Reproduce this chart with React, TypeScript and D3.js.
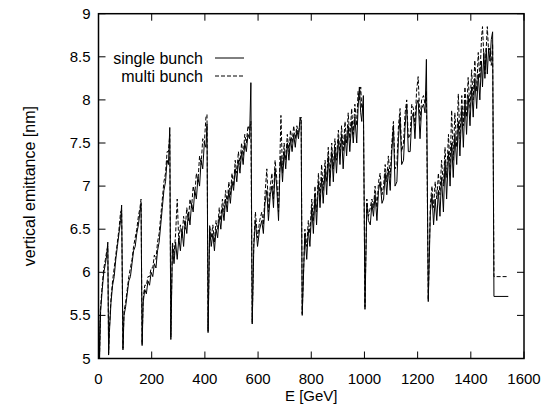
import * as d3 from 'd3';

// beam energy [GeV], one entry per sample, sawtooth segments separated by the sharp drops
const energy = [
  0, 4, 8, 14, 20, 26, 31, 35, 38,
  41, 47, 53, 59, 65, 71, 77, 83, 87, 92,
  96, 102, 108, 114, 120, 126, 132, 138, 144, 150, 156, 160, 164,
  168, 174, 180, 186, 192, 198, 204, 210, 216, 222, 228, 234, 240, 246, 252, 258, 263, 268, 272,
  278, 284, 290, 296, 302, 308, 314, 320, 326, 332, 338, 344, 350, 356, 362, 368, 374, 380, 386, 392, 398, 404, 408, 412,
  418, 424, 430, 436, 442, 448, 454, 460, 466, 472, 478, 484, 490, 496, 502, 508, 514, 520, 526, 532, 538, 544, 550, 556, 562, 568, 573, 578,
  584, 590, 598, 606, 614, 620, 626, 633, 639, 646, 652, 658, 664, 670, 677, 682, 686, 692, 698, 704, 710, 716, 722, 728, 734, 740, 746, 752, 758, 762, 766,
  776, 783, 789, 795, 802, 808, 814, 820, 827, 833, 839, 845, 852, 858, 864, 870, 877, 883, 889, 895, 902, 908, 914, 920, 927, 933, 939, 945, 952, 958, 964, 971, 976, 981, 986, 990, 996, 1002,
  1009, 1015, 1022, 1028, 1034, 1040, 1047, 1053, 1059, 1066, 1072, 1078, 1084, 1090, 1097, 1103, 1109, 1115, 1122, 1128, 1134, 1140, 1147, 1153, 1159, 1165, 1172, 1178, 1184, 1190, 1196, 1202, 1209, 1215, 1222, 1228, 1233, 1240,
  1248, 1254, 1260, 1266, 1272, 1278, 1284, 1290, 1297, 1303, 1309, 1316, 1322, 1328, 1334, 1340, 1347, 1353, 1359, 1366, 1372, 1378, 1384, 1390, 1397, 1403, 1409, 1415, 1422, 1428, 1434, 1440, 1444, 1449, 1453, 1458, 1462, 1467, 1472, 1477, 1482, 1487,
  1541,
];

const singleBunch = [
  5.6, 5.0, 5.55, 5.8, 6.0, 6.1, 6.2, 6.35, 5.04,
  5.3, 5.65, 5.85, 5.95, 6.15, 6.3, 6.45, 6.6, 6.78, 5.1,
  5.5, 5.6, 5.75, 5.9, 5.95, 6.1, 6.25, 6.3, 6.45, 6.55, 6.7, 6.8, 5.15,
  5.65, 5.8, 5.75, 5.9, 5.85, 6.0, 5.95, 6.1, 6.05, 6.25, 6.35, 6.55, 6.75, 6.95, 7.05, 7.3, 7.25, 7.68, 5.22,
  6.3, 6.1, 6.35, 6.15, 6.4, 6.25, 6.5, 6.3, 6.6, 6.45, 6.7, 6.55, 6.8, 6.7, 6.95, 6.85, 7.1, 7.0, 7.3, 7.2, 7.5, 7.45, 7.72, 5.3,
  6.5, 6.3, 6.45, 6.25, 6.5, 6.4, 6.65, 6.5, 6.75, 6.6, 6.85, 6.7, 6.95, 6.8, 7.05, 6.95, 7.2, 7.05, 7.3, 7.15, 7.4, 7.25, 7.5, 7.4, 7.6, 7.55, 8.2, 5.4,
  6.3, 6.6, 6.3, 6.5, 6.6, 6.45, 6.8, 6.95, 6.6, 6.9, 7.0, 6.75, 7.2, 7.0, 6.6, 7.15, 7.35, 7.05, 7.4, 7.2, 7.5, 7.3, 7.55, 7.4, 7.6, 7.45, 7.65, 7.55, 7.8, 7.75, 5.5,
  6.45, 6.15, 6.5, 6.3, 6.75, 6.45, 6.9, 6.55, 7.05, 6.75, 7.1, 6.8, 7.2, 6.9, 7.35, 7.0, 7.4, 7.05, 7.45, 7.15, 7.55, 7.25, 7.6, 7.2, 7.6, 7.35, 7.7, 7.4, 7.75, 7.5, 7.8, 7.5, 7.9, 8.15, 7.85, 7.75, 8.05, 5.57,
  6.8, 6.6, 6.55, 6.8, 6.65, 6.9, 6.6, 6.95, 7.05, 6.8, 6.85, 7.15, 6.9, 7.2, 6.95, 7.4, 7.7, 7.0, 7.05, 7.55, 7.8, 7.25, 7.3, 7.7, 7.95, 7.4, 7.4, 7.8, 7.85, 7.55, 7.95, 8.0, 7.55, 7.9, 7.95, 7.85, 8.47, 5.66,
  6.7, 6.9, 6.55, 6.85, 6.6, 6.95, 6.65, 7.1, 6.7, 7.3, 6.85, 7.4, 7.0, 7.5, 7.1, 7.6, 7.25, 7.75, 7.35, 7.9, 7.45, 8.0, 7.6, 8.05, 7.7, 8.15, 7.8, 8.25, 7.9, 8.3, 8.0, 8.45, 8.15, 8.55, 8.25, 8.6, 8.3, 8.6, 8.45, 8.7, 8.79, 5.72,
  5.72,
];

const multiBunch = [
  5.65, 5.05, 5.6, 5.85, 6.05, 6.15, 6.25, 6.3, 5.06,
  5.35, 5.7, 5.9, 6.05, 6.2, 6.35, 6.5, 6.7, 6.72, 5.12,
  5.55, 5.65, 5.8, 5.95, 6.05, 6.15, 6.3, 6.4, 6.5, 6.65, 6.75, 6.85, 5.17,
  5.7, 5.85, 5.85, 5.95, 5.95, 6.05, 6.05, 6.2, 6.15, 6.35, 6.45, 6.65, 6.85, 7.05, 7.15, 7.4, 7.4, 7.6, 5.25,
  6.35, 6.2, 6.45, 6.85, 6.35, 6.55, 6.4, 6.65, 6.5, 6.75, 6.6, 6.85, 6.75, 7.0, 6.9, 7.15, 7.05, 7.35, 7.25, 7.55, 7.5, 7.8, 7.83, 5.32,
  6.55, 6.4, 6.55, 6.35, 6.6, 6.5, 6.75, 6.6, 6.85, 6.7, 6.95, 6.8, 7.05, 6.9, 7.15, 7.0, 7.3, 7.15, 7.4, 7.25, 7.5, 7.35, 7.6, 7.5, 7.7, 7.65, 7.75, 5.42,
  6.35, 6.7, 6.4, 6.6, 6.7, 6.55, 6.9, 7.2, 6.7, 7.0, 7.15, 6.85, 7.3, 7.1, 6.7, 7.3, 7.82, 7.15, 7.5, 7.3, 7.6, 7.4, 7.65, 7.5, 7.7, 7.55, 7.7, 7.6, 7.75, 7.8, 5.52,
  6.5, 6.3, 6.6, 6.45, 6.85, 6.6, 7.0, 6.7, 7.15, 6.85, 7.25, 6.95, 7.3, 7.05, 7.45, 7.1, 7.5, 7.2, 7.55, 7.3, 7.65, 7.35, 7.7, 7.4, 7.75, 7.5, 7.85, 7.55, 7.9, 7.6, 7.95, 7.7, 8.1, 8.0, 8.15, 7.9, 7.95, 5.6,
  6.85, 6.65, 6.75, 6.85, 6.75, 7.0, 6.75, 7.05, 7.15, 6.9, 7.0, 7.25, 7.05, 7.35, 7.1, 7.5, 7.75, 7.2, 7.25, 7.7, 7.9, 7.4, 7.5, 7.85, 8.0, 7.55, 7.6, 7.95, 7.9, 7.7, 8.1, 8.27, 7.75, 8.0, 8.05, 7.95, 8.1, 5.68,
  6.8, 7.0, 6.75, 7.05, 6.85, 7.15, 6.9, 7.3, 7.0, 7.45, 7.1, 7.6, 7.2, 7.88, 7.3, 7.85, 7.45, 8.07, 7.55, 8.05, 7.7, 8.15, 7.8, 8.26, 7.9, 8.35, 8.0, 8.46, 8.1, 8.55, 8.25, 8.7, 8.85, 8.5, 8.3, 8.6, 8.85, 8.55, 8.6, 8.4, 8.65, 5.95,
  5.95,
];

const xTicks = [0, 200, 400, 600, 800, 1000, 1200, 1400, 1600];
const yTicks = [5, 5.5, 6, 6.5, 7, 7.5, 8, 8.5, 9];
const seriesNames = ['single bunch', 'multi bunch'];

const FONT = '"Liberation Sans", Arial, Helvetica, sans-serif';

export default function App() {
  const width = 543;
  const height = 404;
  const margin = { top: 13.7, right: 19, bottom: 45.5, left: 98.5 };
  const tickLen = 7;

  const x = d3.scaleLinear().domain([0, 1600]).range([margin.left, width - margin.right]);
  const y = d3.scaleLinear().domain([5, 9]).range([height - margin.bottom, margin.top]);
  const [x0, x1] = x.range();
  const [y0, y1] = y.range();

  const line = d3
    .line<number>()
    .x((_, i) => x(energy[i]))
    .y((d) => y(d));

  const series = [
    { name: seriesNames[1], values: multiBunch, dash: '4 2' },
    { name: seriesNames[0], values: singleBunch, dash: undefined },
  ];

  const legendX = 203;
  const legendLine = [215, 244];

  return (
    <svg
      width={width}
      height={height}
      viewBox={`0 0 ${width} ${height}`}
      style={{ position: 'absolute', left: 0, top: 0, background: '#fff' }}
      fontFamily={FONT}
    >
      <rect width={width} height={height} fill="#fff" />

      {/* data */}
      {series.map((s) => (
        <path
          key={s.name}
          d={line(s.values) ?? ''}
          fill="none"
          stroke="#000"
          strokeWidth={1}
          strokeDasharray={s.dash}
        />
      ))}

      {/* ticks, mirrored on all sides and pointing inward */}
      {xTicks.map((t) => (
        <g key={`x${t}`}>
          <line x1={x(t)} x2={x(t)} y1={y0} y2={y0 - tickLen} stroke="#000" />
          <line x1={x(t)} x2={x(t)} y1={y1} y2={y1 + tickLen} stroke="#000" />
          <text x={x(t)} y={384} textAnchor="middle" fontSize={15} fill="#000">
            {t}
          </text>
        </g>
      ))}
      {yTicks.map((t) => (
        <g key={`y${t}`}>
          <line x1={x0} x2={x0 + tickLen} y1={y(t)} y2={y(t)} stroke="#000" />
          <line x1={x1} x2={x1 - tickLen} y1={y(t)} y2={y(t)} stroke="#000" />
          <text x={x0 - 8} y={y(t) + 5} textAnchor="end" fontSize={15} fill="#000">
            {t}
          </text>
        </g>
      ))}

      <rect x={x0} y={y1} width={x1 - x0} height={y0 - y1} fill="none" stroke="#000" strokeWidth={1.5} />

      {/* legend */}
      {seriesNames.map((name, i) => (
        <g key={name}>
          <text x={legendX} y={63.5 + i * 18} textAnchor="end" fontSize={16} fill="#000">
            {name}
          </text>
          <line
            x1={legendLine[0]}
            x2={legendLine[1]}
            y1={58 + i * 18}
            y2={58 + i * 18}
            stroke="#000"
            strokeDasharray={i === 1 ? '4 2' : undefined}
          />
        </g>
      ))}

      <text x={(x0 + x1) / 2} y={401} textAnchor="middle" fontSize={15} fill="#000">
        E [GeV]
      </text>
      <text
        transform={`translate(35,${(y0 + y1) / 2}) rotate(-90)`}
        textAnchor="middle"
        fontSize={16}
        fill="#000"
      >
        vertical emittance [nm]
      </text>
    </svg>
  );
}
